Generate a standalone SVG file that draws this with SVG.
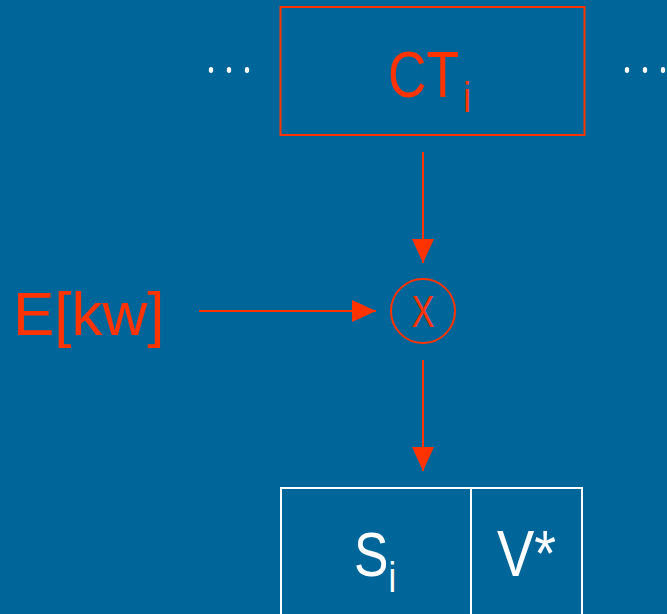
<svg xmlns="http://www.w3.org/2000/svg" width="667" height="614" viewBox="0 0 667 614">
<style>
.red{fill:none;stroke:#FF3300;stroke-width:2}
.wht{fill:none;stroke:#FFFFFF;stroke-width:2}
.t{font-family:"Liberation Sans",sans-serif}
.tr{fill:#FF3300}
.tw{fill:#FFFFFF}
.dot{fill:#FFFFFF}
</style>
<defs>
<marker id="ah" markerUnits="userSpaceOnUse" markerWidth="24" markerHeight="22" refX="24" refY="11" orient="auto">
<path d="M0,0 L24,11 L0,22 Z" fill="#FF3300"/>
</marker>
</defs>
<rect width="667" height="614" fill="#006699"/>
<g id="dots-left"><ellipse class="dot" cx="211" cy="70" rx="2.2" ry="3"/><ellipse class="dot" cx="229" cy="70" rx="2.2" ry="3"/><ellipse class="dot" cx="247" cy="70" rx="2.2" ry="3"/></g>
<g id="dots-right"><ellipse class="dot" cx="627" cy="70" rx="2.2" ry="3"/><ellipse class="dot" cx="645" cy="70" rx="2.2" ry="3"/><ellipse class="dot" cx="663" cy="70" rx="2.2" ry="3"/></g>
<g id="ct">
<rect class="red" x="280.5" y="7" width="304" height="128"/>
<text class="t tr" transform="translate(388,97) scale(0.82,1)" font-size="65">CT<tspan dx="5" dy="15" font-size="42">i</tspan></text>
</g>
<g id="mult">
<circle class="red" cx="423" cy="311" r="32"/>
<text class="t tr" transform="translate(423,327) scale(0.78,1)" font-size="44" text-anchor="middle">X</text>
</g>
<g id="ekw">
<text class="t tr" x="13" y="335" font-size="62">E[kw]</text>
</g>
<g id="si">
<rect class="wht" x="281" y="488" width="190" height="140"/>
<text class="t tw" transform="translate(354,576) scale(0.82,1)" font-size="63">S<tspan dx="0" dy="16" font-size="42">i</tspan></text>
</g>
<g id="vstar">
<rect class="wht" x="471" y="488" width="111" height="140"/>
<text class="t tw" x="497" y="576" font-size="64" textLength="59" lengthAdjust="spacingAndGlyphs">V*</text>
</g>
<g id="connectors">
<line class="red" x1="423" y1="152" x2="423" y2="263" marker-end="url(#ah)"/>
<line class="red" x1="199" y1="311" x2="376" y2="311" marker-end="url(#ah)"/>
<line class="red" x1="423" y1="360" x2="423" y2="471" marker-end="url(#ah)"/>
</g>
</svg>
